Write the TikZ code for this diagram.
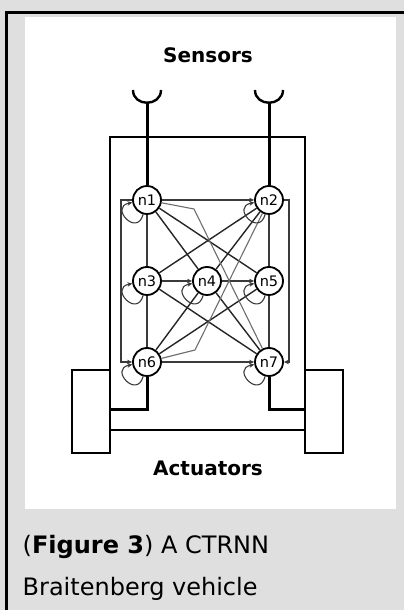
\documentclass[tikz,border=0pt]{standalone}
\usepackage{fontspec}
\setmainfont{DejaVu Sans}
\usetikzlibrary{arrows.meta}
\definecolor{pagegray}{HTML}{DFDFDF}
\definecolor{syngray}{HTML}{3A3A3A}
\definecolor{bentgray}{HTML}{6E6E6E}
\tikzset{
  neuron/.style={circle, draw, line width=1.8pt, fill=white, minimum size=28pt, inner sep=0pt, font=\fontsize{14.5}{14.5}\selectfont},
  syn/.style={line width=1.1pt, draw=syngray},
  cross/.style={line width=1.4pt, draw=black!85},
  bent/.style={line width=1.1pt, draw=bentgray},
  tip/.style={-{Stealth[length=5pt,width=4.5pt]}},
  chassis/.style={line width=2.4pt},
  wire/.style={line width=3pt},
  label/.style={font=\fontsize{20}{20}\bfseries\selectfont, anchor=base},
  caption/.style={font=\fontsize{24}{24}\selectfont, anchor=base west, inner sep=0pt}
}
\begin{document}
\begin{tikzpicture}[x=1pt,y=1pt]
\useasboundingbox (0,0) rectangle (404,610);
\fill[pagegray] (0,0) rectangle (404,610);
\fill[white] (25,101) rectangle (396,593);
\draw[line width=3pt] (6.5,0) |- (404,597.5);

% vehicle
\draw[chassis] (110,180) rectangle (305,473);
\draw[chassis] (72,157) rectangle (110,240);
\draw[chassis] (305,157) rectangle (343,240);
\draw[chassis] (133,520) .. controls (133,503) and (161,503) .. (161,520);
\draw[chassis] (255,520) .. controls (255,503) and (283,503) .. (283,520);
\coordinate (sl) at (147,507);
\coordinate (sr) at (269,507);
\coordinate (ml) at (110,200);
\coordinate (mr) at (305,200);

\node[neuron] (n1) at (147,410){n1};
\node[neuron] (n2) at (269,410){n2};
\node[neuron] (n3) at (147,329){n3};
\node[neuron] (n4) at (207,329){n4};
\node[neuron] (n5) at (269,329){n5};
\node[neuron] (n6) at (147,248){n6};
\node[neuron] (n7) at (269,248){n7};

\draw[wire](sl) -- (n1);
\draw[wire](sr) -- (n2);
\draw[wire](n6) |- (ml);
\draw[wire](n7) |- (mr);

% network
\coordinate (rl) at (121,329);
\coordinate (rr) at (289,329);
\coordinate (bt) at (194,401);
\coordinate (bb) at (195,260);
\draw[syn,tip](n1) -| (rl) |- (n6);
\draw[syn,tip](n2) -| (rr) |- (n7);
\draw[syn,tip](n1) -- (n2);
\draw[syn,tip](n6) -- (n7);
\draw[syn](n1) -- (n3);
\draw[syn](n3) -- (n6);
\draw[syn](n2) -- (n5);
\draw[syn](n5) -- (n7);
\draw[syn,tip](n3) -- (n4);
\draw[syn,tip](n4) -- (n5);
\draw[cross](n1) -- (n4);
\draw[cross](n1) -- (n5);
\draw[cross](n6) -- (n4);
\draw[cross](n6) -- (n5);
\draw[cross](n3) -- (n2);
\draw[cross](n3) -- (n7);
\draw[cross](n4) -- (n2);
\draw[cross](n4) -- (n7);
\draw[bent](n1) -- (bt) -- (n7);
\draw[bent](n6) -- (bb) -- (n2);
\foreach \i in {1,...,7}
  \draw[syn,tip](n\i.255) .. controls +(255:24pt) and +(190:24pt) .. (n\i.190);

\node[label] (sensors) at (208,547){Sensors};
\node[label] (actuators) at (208,134){Actuators};
\node[caption] (cap1) at (22.5,56){(\textbf{Figure 3}) A CTRNN};
\node[caption] (cap2) at (22.5,14){Braitenberg vehicle};
\end{tikzpicture}
\end{document}
